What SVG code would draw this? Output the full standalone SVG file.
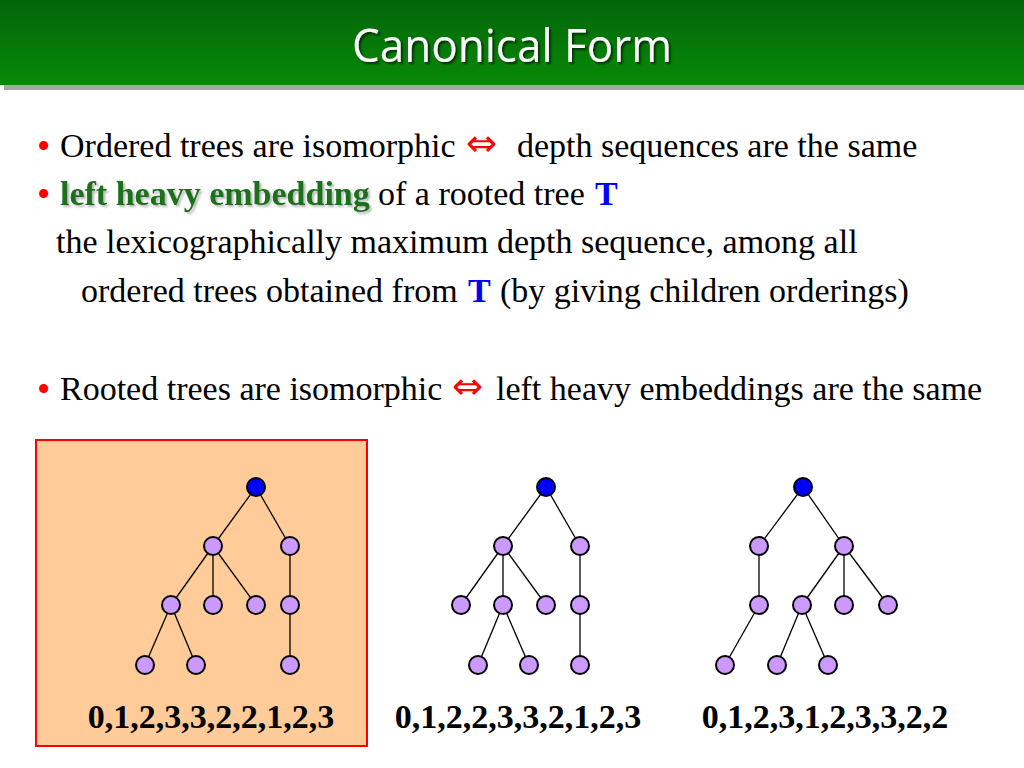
<svg xmlns="http://www.w3.org/2000/svg" width="1024" height="768" viewBox="0 0 1024 768">
<defs>
<linearGradient id="hdr" x1="0" y1="0" x2="0" y2="1">
<stop offset="0" stop-color="#04650a"/>
<stop offset="1" stop-color="#078a07"/>
</linearGradient>
<filter id="tsh" x="-10%" y="-30%" width="130%" height="170%">
<feGaussianBlur in="SourceAlpha" stdDeviation="1.2"/>
<feOffset dx="2" dy="2" result="b"/>
<feFlood flood-color="#000000" flood-opacity="0.6"/>
<feComposite in2="b" operator="in"/>
<feMerge><feMergeNode/><feMergeNode in="SourceGraphic"/></feMerge>
</filter>
<filter id="gsh" x="-10%" y="-30%" width="130%" height="170%">
<feGaussianBlur in="SourceAlpha" stdDeviation="1.2"/>
<feOffset dx="2" dy="2" result="b"/>
<feFlood flood-color="#000000" flood-opacity="0.3"/>
<feComposite in2="b" operator="in"/>
<feMerge><feMergeNode/><feMergeNode in="SourceGraphic"/></feMerge>
</filter>
</defs>
<style>
.body{font-family:"Liberation Serif","Times New Roman",serif;font-size:34px;fill:#000}
.bul{font-family:"Liberation Serif","Times New Roman",serif;font-size:38px;fill:#ff0000}
.arr{font-family:"DejaVu Sans",sans-serif;font-size:37px;fill:#ff0000}
.blueT{font-weight:bold;fill:#0000ff}
.green{font-weight:bold;fill:#1f6f1f}
.seq{font-family:"Liberation Serif","Times New Roman",serif;font-size:34px;font-weight:bold;fill:#000;text-anchor:middle}
.edge{stroke:#000;stroke-width:1.3;fill:none}
.n{fill:#cc99ff;stroke:#000;stroke-width:2}
.r{fill:#0000ff;stroke:#000;stroke-width:2}
</style>
<rect x="0" y="0" width="1024" height="768" fill="#ffffff"/>
<g id="header">
<rect x="4" y="85" width="1020" height="5" fill="#a6a6a6"/>
<rect x="0" y="0" width="1024" height="85" fill="url(#hdr)"/>
<text x="512" y="62" text-anchor="middle" font-family="Open Sans, Noto Sans, sans-serif" font-size="45" fill="#ffffff" textLength="320" lengthAdjust="spacingAndGlyphs" filter="url(#tsh)">Canonical Form</text>
</g>
<g id="bullets">
<text class="bul" x="37" y="159">•</text>
<text class="body" x="60" y="157">Ordered trees are isomorphic</text>
<text class="arr" x="466" y="156">⇔</text>
<text class="body" x="517" y="157">depth sequences are the same</text>

<text class="bul" x="37" y="207">•</text>
<text class="body green" x="60" y="205" filter="url(#gsh)">left heavy embedding</text>
<text class="body" x="378" y="205">of a rooted tree</text>
<text class="body blueT" x="595" y="205">T</text>

<text class="body" x="56" y="253">the lexicographically maximum depth sequence, among all</text>

<text class="body" x="81" y="302">ordered trees obtained from</text>
<text class="body blueT" x="468" y="302">T</text>
<text class="body" x="500" y="302">(by giving children orderings)</text>

<text class="bul" x="37" y="402">•</text>
<text class="body" x="60" y="400">Rooted trees are isomorphic</text>
<text class="arr" x="452" y="399">⇔</text>
<text class="body" x="496" y="400">left heavy embeddings are the same</text>
</g>
<rect id="highlight" x="36" y="440" width="331" height="306" fill="#ffcc99" stroke="#ff0000" stroke-width="2"/>
<g id="connectors">
<line class="edge" x1="256" y1="487" x2="213" y2="546"/>
<line class="edge" x1="256" y1="487" x2="290" y2="546"/>
<line class="edge" x1="213" y1="546" x2="171" y2="605"/>
<line class="edge" x1="213" y1="546" x2="213" y2="605"/>
<line class="edge" x1="213" y1="546" x2="256" y2="605"/>
<line class="edge" x1="290" y1="546" x2="290" y2="605"/>
<line class="edge" x1="171" y1="605" x2="145" y2="665"/>
<line class="edge" x1="171" y1="605" x2="196" y2="665"/>
<line class="edge" x1="290" y1="605" x2="290" y2="665"/>
<line class="edge" x1="546" y1="487" x2="503" y2="546"/>
<line class="edge" x1="546" y1="487" x2="580" y2="546"/>
<line class="edge" x1="503" y1="546" x2="461" y2="605"/>
<line class="edge" x1="503" y1="546" x2="503" y2="605"/>
<line class="edge" x1="503" y1="546" x2="546" y2="605"/>
<line class="edge" x1="580" y1="546" x2="580" y2="605"/>
<line class="edge" x1="503" y1="605" x2="478" y2="665"/>
<line class="edge" x1="503" y1="605" x2="529" y2="665"/>
<line class="edge" x1="580" y1="605" x2="580" y2="665"/>
<line class="edge" x1="803" y1="487" x2="759" y2="546"/>
<line class="edge" x1="803" y1="487" x2="844" y2="546"/>
<line class="edge" x1="759" y1="546" x2="759" y2="605"/>
<line class="edge" x1="844" y1="546" x2="802" y2="605"/>
<line class="edge" x1="844" y1="546" x2="844" y2="605"/>
<line class="edge" x1="844" y1="546" x2="888" y2="605"/>
<line class="edge" x1="759" y1="605" x2="725" y2="665"/>
<line class="edge" x1="802" y1="605" x2="777" y2="665"/>
<line class="edge" x1="802" y1="605" x2="828" y2="665"/>
</g>
<g id="tree1">
<circle class="r" cx="256" cy="487" r="9"/>
<circle class="n" cx="213" cy="546" r="9"/>
<circle class="n" cx="290" cy="546" r="9"/>
<circle class="n" cx="171" cy="605" r="9"/>
<circle class="n" cx="213" cy="605" r="9"/>
<circle class="n" cx="256" cy="605" r="9"/>
<circle class="n" cx="290" cy="605" r="9"/>
<circle class="n" cx="145" cy="665" r="9"/>
<circle class="n" cx="196" cy="665" r="9"/>
<circle class="n" cx="290" cy="665" r="9"/>
<text class="seq" x="211" y="728">0,1,2,3,3,2,2,1,2,3</text>
</g>
<g id="tree2">
<circle class="r" cx="546" cy="487" r="9"/>
<circle class="n" cx="503" cy="546" r="9"/>
<circle class="n" cx="580" cy="546" r="9"/>
<circle class="n" cx="461" cy="605" r="9"/>
<circle class="n" cx="503" cy="605" r="9"/>
<circle class="n" cx="546" cy="605" r="9"/>
<circle class="n" cx="580" cy="605" r="9"/>
<circle class="n" cx="478" cy="665" r="9"/>
<circle class="n" cx="529" cy="665" r="9"/>
<circle class="n" cx="580" cy="665" r="9"/>
<text class="seq" x="518" y="728">0,1,2,2,3,3,2,1,2,3</text>
</g>
<g id="tree3">
<circle class="r" cx="803" cy="487" r="9"/>
<circle class="n" cx="759" cy="546" r="9"/>
<circle class="n" cx="844" cy="546" r="9"/>
<circle class="n" cx="759" cy="605" r="9"/>
<circle class="n" cx="802" cy="605" r="9"/>
<circle class="n" cx="844" cy="605" r="9"/>
<circle class="n" cx="888" cy="605" r="9"/>
<circle class="n" cx="725" cy="665" r="9"/>
<circle class="n" cx="777" cy="665" r="9"/>
<circle class="n" cx="828" cy="665" r="9"/>
<text class="seq" x="825" y="728">0,1,2,3,1,2,3,3,2,2</text>
</g>
</svg>
